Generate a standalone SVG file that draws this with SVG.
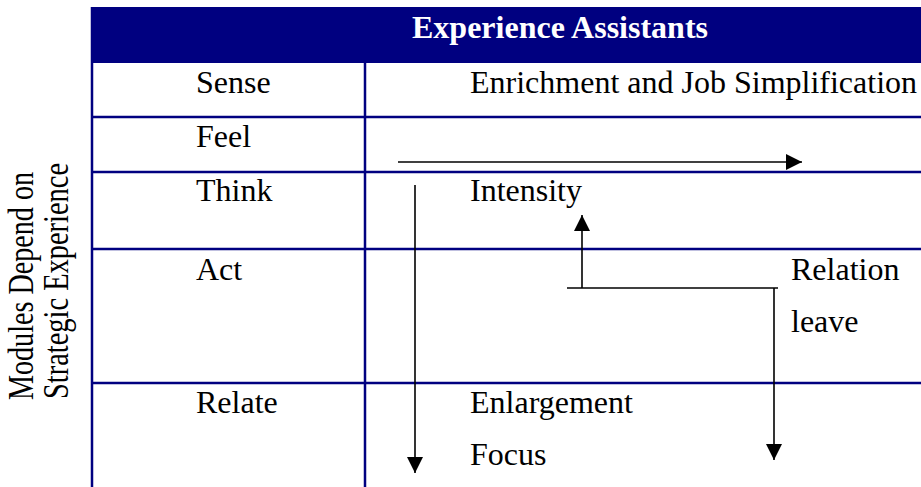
<svg xmlns="http://www.w3.org/2000/svg" width="921" height="487" viewBox="0 0 921 487">
<style>
.t{font-family:"Liberation Serif","Times New Roman",serif;font-size:32px;fill:#000}
.s{font-family:"Liberation Serif","Times New Roman",serif;font-size:28px;fill:#000}
.h{font-family:"Liberation Serif","Times New Roman",serif;font-size:32px;font-weight:bold;fill:#fff}
.g{stroke:#000080;stroke-width:2.5;fill:none}
.c{stroke:#000;stroke-width:1.6;fill:none}
</style>
<defs>
<marker id="ah" markerUnits="userSpaceOnUse" markerWidth="16" markerHeight="16" refX="16" refY="8" orient="auto">
<path d="M0,0 L16,8 L0,16 z" fill="#000"/>
</marker>
</defs>
<rect width="921" height="487" fill="#fff"/>
<g id="side-label">
<text class="s" transform="translate(33,400) rotate(-90) scale(1,1.25)" textLength="228" lengthAdjust="spacingAndGlyphs">Modules Depend on</text>
<text class="s" transform="translate(68,399) rotate(-90) scale(1,1.25)" textLength="236" lengthAdjust="spacingAndGlyphs">Strategic Experience</text>
</g>
<g id="table">
<rect id="header" x="91" y="7" width="830" height="56" fill="#000080"/>
<text class="h" x="412" y="38">Experience Assistants</text>
<line class="g" x1="92" y1="7" x2="92" y2="487"/>
<line class="g" x1="365" y1="63" x2="365" y2="487"/>
<line class="g" x1="91" y1="117" x2="921" y2="117"/>
<line class="g" x1="91" y1="172" x2="921" y2="172"/>
<line class="g" x1="91" y1="249" x2="921" y2="249"/>
<line class="g" x1="91" y1="383" x2="921" y2="383"/>
</g>
<g id="row-sense"><text class="t" x="196" y="93">Sense</text><text class="t" x="470" y="93">Enrichment and Job Simplification</text></g>
<g id="row-feel"><text class="t" x="196" y="147">Feel</text></g>
<g id="row-think"><text class="t" x="196" y="201">Think</text><text class="t" x="470" y="201">Intensity</text></g>
<g id="row-act"><text class="t" x="196" y="280">Act</text><text class="t" x="791" y="280">Relation</text><text class="t" x="791" y="332">leave</text></g>
<g id="row-relate"><text class="t" x="196" y="413">Relate</text><text class="t" x="470" y="413">Enlargement</text><text class="t" x="470" y="465">Focus</text></g>
<g id="connectors">
<line class="c" x1="398" y1="162" x2="802" y2="162" marker-end="url(#ah)"/>
<line class="c" x1="415" y1="185" x2="415" y2="473" marker-end="url(#ah)"/>
<line class="c" x1="582" y1="288" x2="582" y2="215" marker-end="url(#ah)"/>
<line class="c" x1="567" y1="288" x2="778" y2="288"/>
<line class="c" x1="774" y1="288" x2="774" y2="460" marker-end="url(#ah)"/>
</g>
</svg>
